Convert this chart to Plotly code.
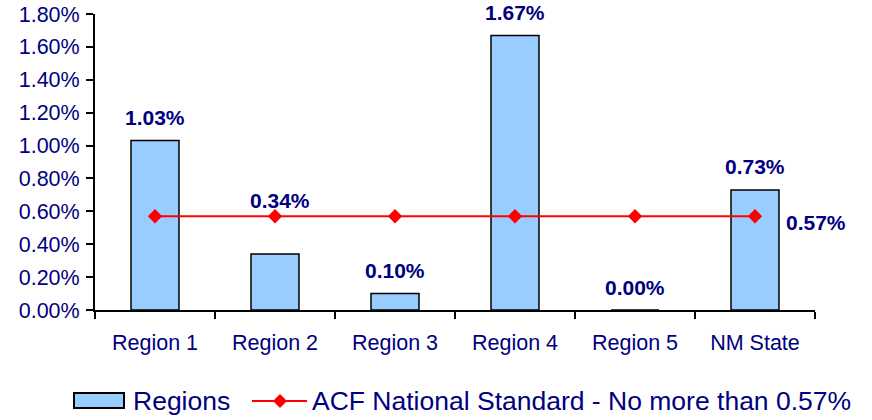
import plotly.graph_objects as go

# Categories and values (fractions, shown as percentages)
regions = ["Region 1", "Region 2", "Region 3", "Region 4", "Region 5", "NM State"]
region_rates = [0.0103, 0.0034, 0.0010, 0.0167, 0.0000, 0.0073]
national_standard = [0.0057, 0.0057, 0.0057, 0.0057, 0.0057, 0.0057]
y_ticks = [0.000, 0.002, 0.004, 0.006, 0.008, 0.010, 0.012, 0.014, 0.016, 0.018]

bar_name = "Regions"
line_name = "ACF National Standard - No more than 0.57%"

NAVY = "#000080"
BAR_FILL = "#99CCFF"
RED = "#FF0000"
FONT = "Liberation Sans, Arial, sans-serif"

W, H = 872, 420
M_L, M_R, M_T, M_B = 95, 57, 14, 110
PW, PH = W - M_L - M_R, H - M_T - M_B

# label offsets from the bar top, in pixels (Region 2 label sits higher to clear the line)
label_lift = {"Region 2": 54}
label_nudge = {"Region 2": 5}
default_lift = 23


def px_to_paper(px, py):
    return (px - M_L) / PW, (H - M_B - py) / PH


fig = go.Figure()

fig.add_trace(go.Bar(
    x=regions, y=region_rates, name=bar_name,
    marker=dict(color=BAR_FILL, line=dict(color="black", width=1.5)),
    showlegend=False,
))

fig.add_trace(go.Scatter(
    x=regions, y=national_standard, name=line_name,
    mode="lines+markers",
    line=dict(color=RED, width=2),
    marker=dict(symbol="diamond", size=11, color=RED),
    showlegend=False,
))

label_font = dict(family=FONT, size=21, color=NAVY, weight="bold")

# value labels over the bars
for cat, val in zip(regions, region_rates):
    fig.add_annotation(
        x=cat, y=val, text=f"{val*100:.2f}%", showarrow=False,
        yanchor="middle", yshift=label_lift.get(cat, default_lift),
        xshift=label_nudge.get(cat, 0),
        font=label_font,
    )

# value label for the standard, to the right of its last point
fig.add_annotation(
    x=regions[-1], y=national_standard[-1], text=f"{national_standard[-1]*100:.2f}%",
    showarrow=False, xshift=61, yshift=-6, yanchor="middle",
    font=label_font,
)

# legend drawn below the axis
x0, y0 = px_to_paper(74, 393)
x1, y1 = px_to_paper(124, 408)
fig.add_shape(type="rect", xref="paper", yref="paper", x0=x0, y0=y0, x1=x1, y1=y1,
              fillcolor=BAR_FILL, line=dict(color="black", width=2))
lx0, ly = px_to_paper(252, 401)
lx1, _ = px_to_paper(307, 401)
fig.add_shape(type="line", xref="paper", yref="paper", x0=lx0, y0=ly, x1=lx1, y1=ly,
              line=dict(color=RED, width=2))
cx, cy = px_to_paper(280, 401)
dx, dy = 7 / PW, 7 / PH
fig.add_shape(type="path", xref="paper", yref="paper",
              path=f"M {cx-dx},{cy} L {cx},{cy+dy} L {cx+dx},{cy} L {cx},{cy-dy} Z",
              fillcolor=RED, line=dict(color=RED, width=0))
legend_font = dict(family=FONT, size=26.5, color=NAVY)
tx, ty = px_to_paper(131, 401)
fig.add_annotation(xref="paper", yref="paper", x=tx, y=ty, text=bar_name, showarrow=False,
                   xanchor="left", yanchor="middle", font=legend_font)
tx2, _ = px_to_paper(310, 401)
fig.add_annotation(xref="paper", yref="paper", x=tx2, y=ty, text=line_name, showarrow=False,
                   xanchor="left", yanchor="middle", font=legend_font)

tick_font = dict(family=FONT, size=21.5, color=NAVY)
boundaries = [i - 0.5 for i in range(len(regions) + 1)]

fig.update_layout(
    width=W, height=H,
    margin=dict(l=M_L, r=M_R, t=M_T, b=M_B, autoexpand=False),
    paper_bgcolor="white", plot_bgcolor="white",
    bargap=0.6,
    xaxis=dict(
        type="category", categoryarray=regions, range=[-0.5, len(regions) - 0.5],
        tickson="boundaries", ticks="outside", ticklen=7, tickwidth=2, tickcolor="black",
        showline=True, linecolor="black", linewidth=2, showgrid=False,
        tickfont=tick_font, ticklabelstandoff=12, automargin=False,
    ),
    yaxis=dict(
        range=[0, 0.018], tickvals=y_ticks, tickformat=".2%",
        ticks="outside", ticklen=7, tickwidth=2, tickcolor="black",
        showline=True, linecolor="black", linewidth=2, showgrid=False, zeroline=False,
        tickfont=tick_font, ticklabelstandoff=2, automargin=False,
    ),
    # inner halves of the crossing tick marks
    xaxis2=dict(
        overlaying="x", anchor="y", side="bottom", range=[-0.5, len(regions) - 0.5],
        tickvals=boundaries, ticks="inside", ticklen=7, tickwidth=2, tickcolor="black",
        showticklabels=False, showgrid=False, showline=False, zeroline=False,
    ),
    yaxis2=dict(
        overlaying="y", anchor="x", side="left", range=[0, 0.018],
        tickvals=y_ticks, ticks="inside", ticklen=7, tickwidth=2, tickcolor="black",
        showticklabels=False, showgrid=False, showline=False, zeroline=False,
    ),
)

fig.write_html("out.html")
